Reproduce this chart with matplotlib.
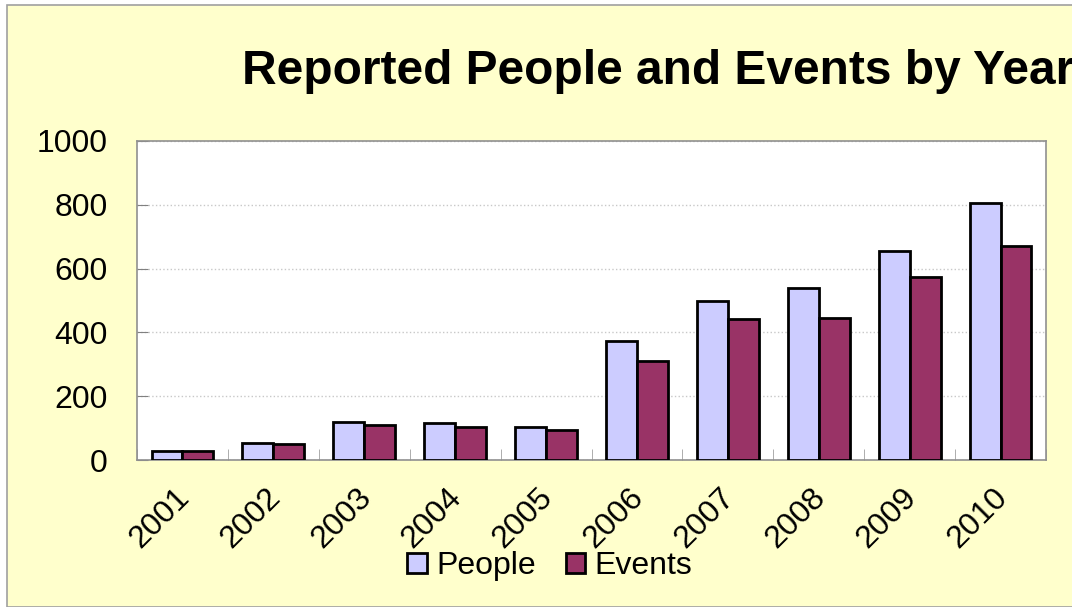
import matplotlib.pyplot as plt
import matplotlib.transforms as mtransforms
import numpy as np
from matplotlib.patches import Rectangle

plt.rcParams['font.family'] = ['Liberation Sans', 'DejaVu Sans']

# dados
anos = ['2001', '2002', '2003', '2004', '2005', '2006', '2007', '2008', '2009', '2010']
pessoas = [27, 52, 118, 117, 104, 373, 498, 540, 655, 805]
eventos = [27, 50, 110, 102, 94, 310, 441, 446, 575, 670]

W, H = 1072, 607
fig = plt.figure(figsize=(W / 100, H / 100), dpi=100)
fig.patch.set_facecolor('white')

# painel amarelo de fundo (cortado na direita e embaixo)
fundo = Rectangle((7 / W, 0), 1.2, 1 - 5 / H, transform=fig.transFigure,
                  facecolor='#FFFFCC', edgecolor='#A0A0A0', linewidth=1.2, zorder=-5)
fig.patches.append(fundo)

ax = fig.add_axes([137 / W, 1 - 460 / H, (1046 - 137) / W, (460 - 141) / H])
ax.set_facecolor('white')

x = np.arange(len(anos))
larg = 0.34
ax.bar(x - larg / 2, pessoas, larg, color='#CCCCFF', edgecolor='black', linewidth=2, label='People', zorder=3)
ax.bar(x + larg / 2, eventos, larg, color='#993366', edgecolor='black', linewidth=2, label='Events', zorder=3)

ax.set_xlim(-0.5, len(anos) - 0.5)
ax.set_ylim(0, 1000)
ax.set_yticks([0, 200, 400, 600, 800, 1000])
ax.tick_params(axis='y', labelsize=23, direction='in', length=8, color='#808080', pad=21)
ax.set_xticks(x)
ax.set_xticklabels(anos, rotation=45, ha='right', va='baseline', rotation_mode='anchor', fontsize=23)
ax.tick_params(axis='x', length=0, pad=28)
ax.set_xticks(np.arange(len(anos) + 1) - 0.5, minor=True)
ax.tick_params(axis='x', which='minor', direction='in', length=8, color='#A0A0A0')

# desloca os rotulos do eixo x um pouco pra direita
desloc = mtransforms.ScaledTranslation(8 / 100, 0, fig.dpi_scale_trans)
for lbl in ax.get_xticklabels():
    lbl.set_transform(lbl.get_transform() + desloc)

ax.grid(axis='y', color='#C8C8C8', linestyle=':', linewidth=1, zorder=0)
for s in ax.spines.values():
    s.set_color('#909090')
    s.set_linewidth(1.2)

fig.text(242 / W, 1 - 71 / H, 'Reported People and Events by Year', fontsize=34.5,
         fontweight='bold', ha='left', va='center')

ax.legend(loc='center', bbox_to_anchor=(550 / W, 1 - 566 / H), bbox_transform=fig.transFigure,
          ncol=2, frameon=False, fontsize=23, handlelength=0.6, handleheight=0.6,
          handletextpad=0.3, columnspacing=0.95, borderpad=0)

fig.savefig('out.png', dpi=100, facecolor=fig.get_facecolor())
